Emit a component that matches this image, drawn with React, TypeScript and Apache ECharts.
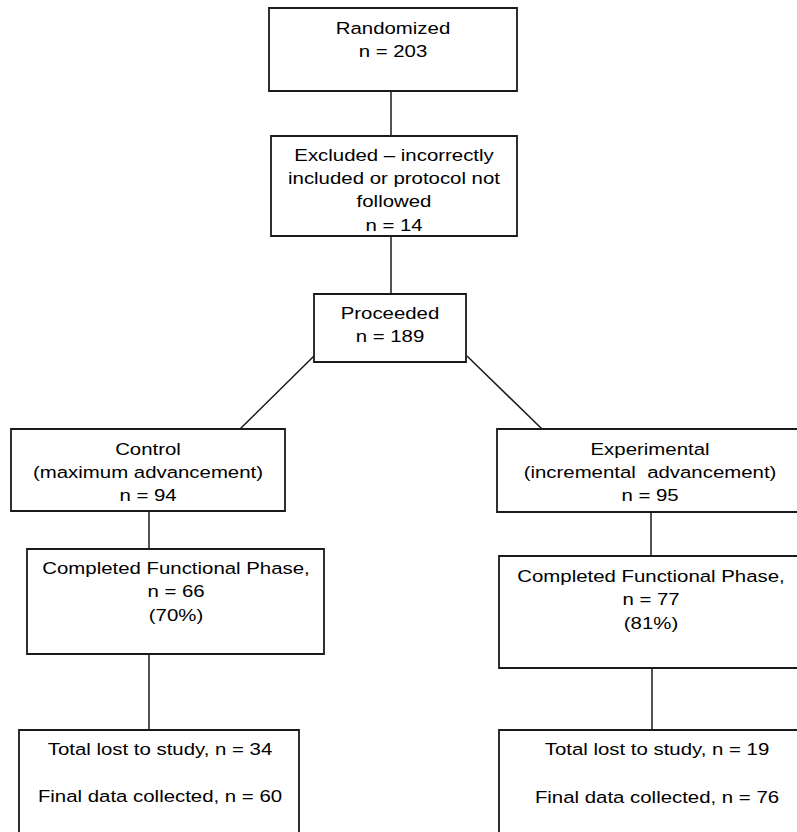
import React, { useEffect, useRef } from "react";
import * as echarts from "echarts";

// ---- data ----
const randomizedN = 203;
const excludedN = 14;
const proceededN = 189;
const armNames = ["Control", "Experimental"];
const armDescriptions = ["(maximum advancement)", "(incremental  advancement)"];
const armN = [94, 95];
const completedN = [66, 77];
const completedPct = ["70%", "81%"];
const lostN = [34, 19];
const finalN = [60, 76];

const boxTexts: string[][] = [
  ["Randomized", `n = ${randomizedN}`],
  ["Excluded \u2013 incorrectly", "included or protocol not", "followed", `n = ${excludedN}`],
  ["Proceeded", `n = ${proceededN}`],
  [armNames[0], armDescriptions[0], `n = ${armN[0]}`],
  [armNames[1], armDescriptions[1], `n = ${armN[1]}`],
  ["Completed Functional Phase,", `n = ${completedN[0]}`, `(${completedPct[0]})`],
  ["Completed Functional Phase,", `n = ${completedN[1]}`, `(${completedPct[1]})`],
  [`Total lost to study, n = ${lostN[0]}`, "", `Final data collected, n = ${finalN[0]}`],
  [`Total lost to study, n = ${lostN[1]}`, "", `Final data collected, n = ${finalN[1]}`],
];

// layout (x0, y0, x1, y1, text centre x, first line y, line gap)
const boxLayout: number[][] = [
  [269, 8, 517, 91, 393, 28, 23.5],
  [271, 136, 517, 236, 394, 155, 23.3],
  [314, 294, 466, 362, 390, 313, 23],
  [11, 429, 285, 511, 148, 449, 23],
  [497, 429, 810, 512, 650, 449, 23],
  [27, 549, 324, 654, 176, 568, 23.5],
  [499, 556, 810, 668, 651, 576, 23.5],
  [19, 730, 299, 850, 160, 749, 23.5],
  [499, 730, 810, 850, 657, 749, 24],
];

const connectors: number[][] = [
  [391, 91, 391, 136],
  [391, 236, 391, 294],
  [314, 356, 240, 429],
  [467, 356, 542, 429],
  [149, 511, 149, 549],
  [149, 654, 149, 730],
  [651, 512, 651, 556],
  [652, 668, 652, 730],
];

export default function App() {
  const ref = useRef<HTMLDivElement>(null);
  useEffect(() => {
    if (!ref.current) return;
    const chart = echarts.init(ref.current, undefined, { renderer: "svg" });
    const elements: any[] = [];
    connectors.forEach((c) => {
      elements.push({
        type: "line",
        shape: { x1: c[0], y1: c[1], x2: c[2], y2: c[3] },
        style: { stroke: "#1a1a1a", lineWidth: 1.5 },
      });
    });
    boxLayout.forEach((b, i) => {
      elements.push({
        type: "rect",
        shape: { x: b[0], y: b[1], width: b[2] - b[0], height: b[3] - b[1] },
        style: { fill: "#ffffff", stroke: "#1a1a1a", lineWidth: 1.8 },
      });
      boxTexts[i].forEach((t, j) => {
        if (!t) return;
        elements.push({
          type: "text",
          x: b[4],
          y: b[5] + j * b[6],
          scaleX: 1.2,
          style: {
            x: 0,
            y: 0,
            text: t,
            fill: "#000000",
            font: '17px "Liberation Sans", Arial, sans-serif',
            textAlign: "center",
            textVerticalAlign: "middle",
          },
        });
      });
    });
    chart.setOption({
      animation: false,
      backgroundColor: "#ffffff",
      graphic: { elements },
    });
    return () => chart.dispose();
  }, []);
  return (
    <div
      ref={ref}
      style={{ position: "fixed", left: 0, top: 0, width: 797, height: 832 }}
    />
  );
}
